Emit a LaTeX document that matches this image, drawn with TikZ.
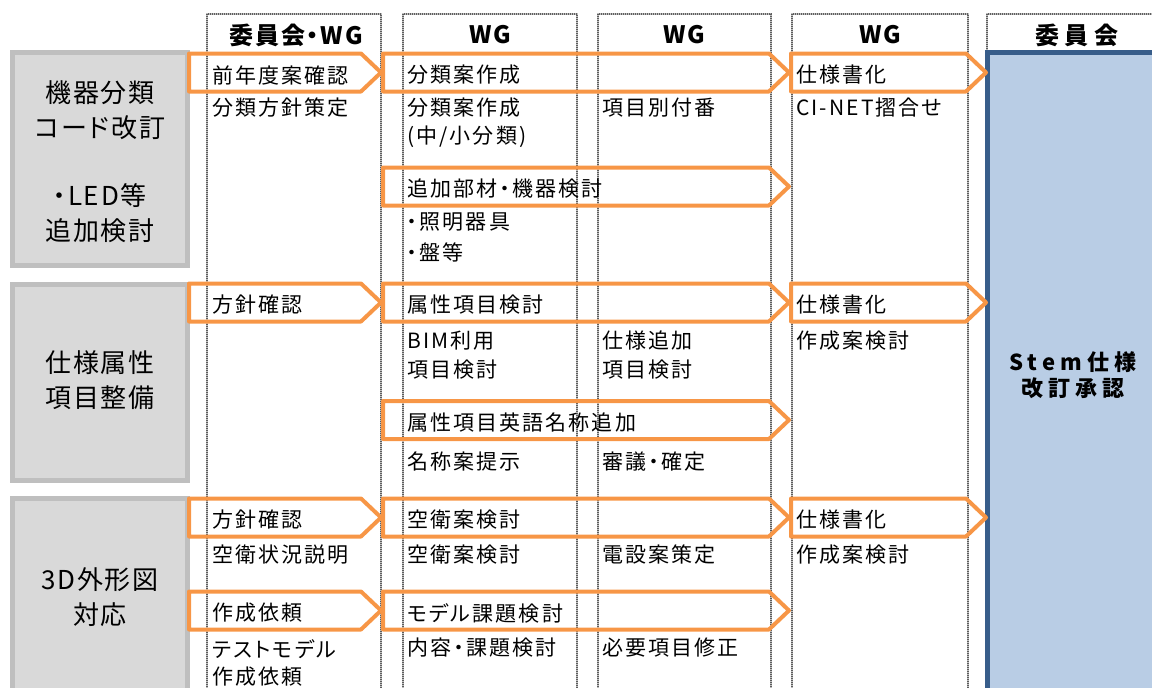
\documentclass[tikz,border=0pt]{standalone}
\usepackage{fontspec}
\setmainfont{Noto Sans CJK JP}[RawFeature=+palt]
\definecolor{orng}{HTML}{F79646}
\definecolor{colgray}{HTML}{5E5E5E}
\definecolor{catfill}{HTML}{D9D9D9}
\definecolor{catborder}{HTML}{BFBFBF}
\definecolor{bluefill}{HTML}{B9CDE5}
\definecolor{blueborder}{HTML}{385D8A}
\newcommand{\coltext}{\fontsize{21}{29}\selectfont\addfontfeatures{LetterSpace=10}}
\newcommand{\cattext}{\fontsize{26}{35}\selectfont\addfontfeatures{LetterSpace=7}}
\newcommand{\headtext}{\fontsize{24}{28}\selectfont\bfseries\addfontfeatures{LetterSpace=8}}
\newcommand{\headwide}{\fontsize{24}{28}\selectfont\bfseries\addfontfeatures{LetterSpace=24}}
\newcommand{\stemtext}{\fontsize{22}{26}\selectfont\bfseries\addfontfeatures{LetterSpace=24}}
\tikzset{
  colunder/.style={draw=colgray!40, line width=2pt},
  colbox/.style={draw=colgray, line width=2pt, dash pattern=on 1pt off 1pt},
  catbox/.style={draw=catborder, fill=catfill, line width=5pt},
  bluebox/.style={draw=blueborder, fill=bluefill, line width=5pt},
  chev/.style={draw=orng, line width=4pt, line join=round},
  txt/.style={anchor=west, inner sep=0pt, font=\coltext},
  cat/.style={anchor=center, inner sep=0pt, align=center, font=\cattext},
  head/.style={anchor=center, inner sep=0pt, font=\headtext}
}
% #1 name, #2 left, #3 tip, #4 centre y, #5 text x, #6 text
\newcommand{\chv}[6]{%
  \draw[chev] (#2,#4-19) -- (#3-20,#4-19) -- (#3,#4) -- (#3-20,#4+19) -- (#2,#4+19) -- cycle;
  \node[txt] (#1) at (#5,#4+2.5) {#6};}
% #1 name, #2 x, #3 y, #4 text
\newcommand{\ct}[4]{\node[txt] (#1) at (#2,#3) {#4};}
% column frame: #1 left, #2 right
\newcommand{\colframe}[2]{%
  \draw[colunder] (#1,14) rectangle (#2,720);
  \draw[colbox] (#1,14) rectangle (#2,720);}
\begin{document}
\begin{tikzpicture}[x=1pt,y=-1pt]
\useasboundingbox (0,0) rectangle (1152,688);
\clip (0,0) rectangle (1152,688);
% column frames
\colframe{207}{381}
\colframe{403}{577}
\colframe{598}{771}
\colframe{792}{968}
\colframe{987}{1170}
% headers
\node[head] (h1) at (296,35) {委員会・WG};
\node[head] (h2) at (490,35) {WG};
\node[head] (h3) at (684.5,35) {WG};
\node[head] (h4) at (880,35) {WG};
\node[head, font=\headwide] (h5) at (1077,35) {委員会};
% category boxes
\draw[catbox] (12.5,52.5) rectangle (187.5,265.5);
\draw[catbox] (12.5,284.5) rectangle (187.5,480.5);
\draw[catbox] (12.5,498.5) rectangle (187.5,720);
\node[cat] (c1a) at (100,110) {機器分類\\コード改訂};
\node[cat] (c1b) at (100,213) {・LED等\\追加検討};
\node[cat] (c2) at (100,380) {仕様属性\\項目整備};
\node[cat] (c3) at (100,597) {3D外形図\\対応};
% approval box
\draw[bluebox] (987.5,52.5) rectangle (1170,720);
\node[anchor=center, inner sep=0pt, align=center, font=\stemtext] (stem) at (1073,375) {Stem仕様\\改訂承認};
% row 1
\chv{r1a}{189}{381}{72.5}{212}{前年度案確認}
\chv{r1b}{383}{789}{72.5}{407}{分類案作成}
\chv{r1c}{791}{986}{72.5}{796}{仕様書化}
\ct{t1a}{212}{108}{分類方針策定}
\ct{t1b}{407}{108}{分類案作成}
\ct{t1c}{407}{137}{(中/小分類)}
\ct{t1d}{602}{108}{項目別付番}
\ct{t1e}{796}{108}{CI-NET摺合せ}
% row 2
\chv{r2a}{383}{789}{186.5}{407}{追加部材・機器検討}
\ct{t2a}{407}{222}{・照明器具}
\ct{t2b}{407}{252}{・盤等}
% row 3
\chv{r3a}{189}{381}{302.5}{212}{方針確認}
\chv{r3b}{383}{789}{302.5}{407}{属性項目検討}
\chv{r3c}{791}{986}{302.5}{796}{仕様書化}
\ct{t3a}{407}{341}{BIM利用}
\ct{t3b}{407}{370}{項目検討}
\ct{t3c}{602}{341}{仕様追加}
\ct{t3d}{602}{370}{項目検討}
\ct{t3e}{796}{341}{作成案検討}
% row 4
\chv{r4a}{383}{789}{420}{407}{属性項目英語名称追加}
\ct{t4a}{407}{462}{名称案提示}
\ct{t4b}{602}{462}{審議・確定}
% row 5
\chv{r5a}{189}{381}{517.5}{212}{方針確認}
\chv{r5b}{383}{789}{517.5}{407}{空衛案検討}
\chv{r5c}{791}{986}{517.5}{796}{仕様書化}
\ct{t5a}{212}{555}{空衛状況説明}
\ct{t5b}{407}{555}{空衛案検討}
\ct{t5c}{602}{555}{電設案策定}
\ct{t5d}{796}{555}{作成案検討}
% row 6
\chv{r6a}{189}{381}{610.5}{212}{作成依頼}
\chv{r6b}{383}{789}{610.5}{407}{モデル課題検討}
\ct{t6a}{212}{649}{テストモデル}
\ct{t6b}{212}{677}{作成依頼}
\ct{t6c}{407}{648}{内容・課題検討}
\ct{t6d}{602}{648}{必要項目修正}
\end{tikzpicture}
\end{document}
